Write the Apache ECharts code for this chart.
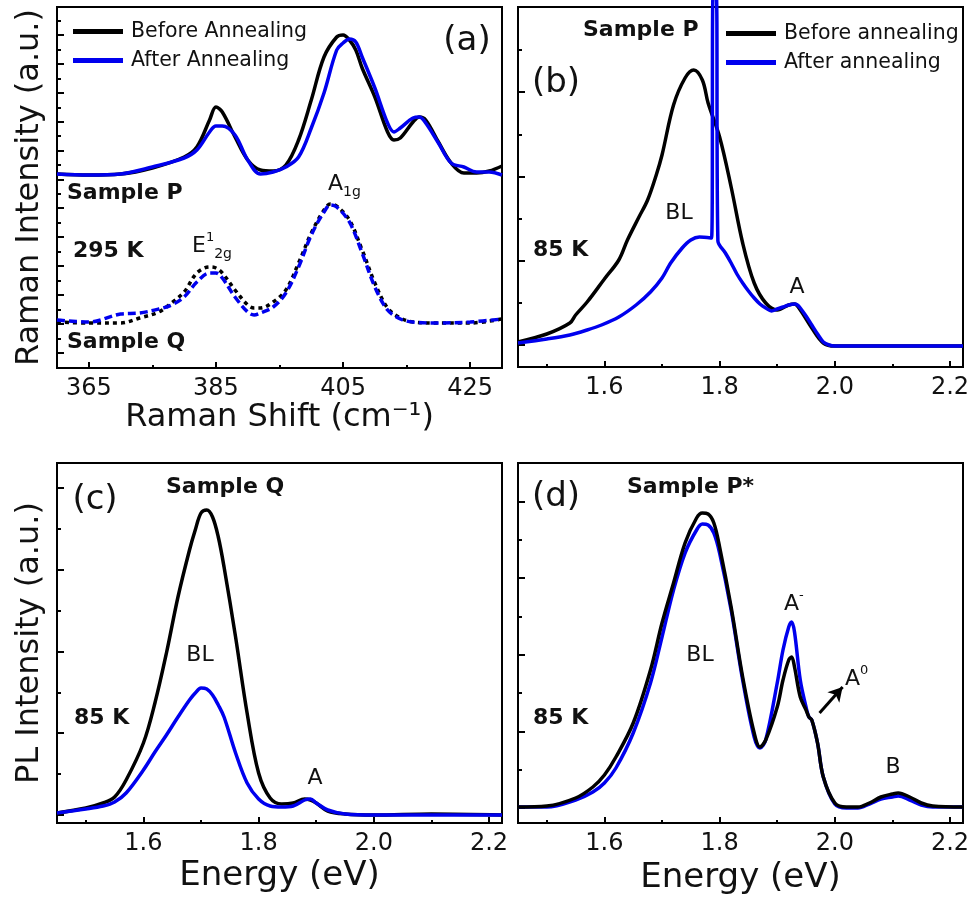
<!DOCTYPE html>
<html>
<head>
<meta charset="utf-8">
<script src="https://cdn.jsdelivr.net/npm/echarts@6/dist/echarts.min.js"></script>
<style>
html, body { margin: 0; padding: 0; background: #fff; }
#chart { width: 976px; height: 901px; }
</style>
</head>
<body>
<div id="chart"></div>
<script>
const FONT = '"DejaVu Sans", sans-serif'
const BLACK = '#000000'
const BLUE = '#0000ee'
const TXT = '#111111'

// (a) Raman spectra, 295 K — sample P (solid) and sample Q (dotted)
const ramanShift = [360, 365, 370, 375, 380, 382, 384, 385, 386, 388, 390, 392, 394, 396, 398, 400, 402, 404, 405, 406, 407, 408, 410, 412, 413, 414, 416, 417, 418, 420, 422, 424, 426, 428, 430]
const ramanPBefore = [194, 193, 194, 200, 211, 221, 248, 261, 256, 231, 208, 198, 197, 203, 228, 268, 311, 331, 333, 328, 318, 300, 271, 236, 228, 230, 246, 251, 248, 226, 205, 195, 195, 197, 202]
const ramanPAfter = [194, 193, 194, 201, 210, 218, 236, 242, 242, 233, 208, 194, 196, 201, 211, 240, 275, 318, 325, 329, 326, 311, 280, 245, 236, 240, 250, 251, 245, 225, 205, 201, 196, 196, 193]
const ramanQShift = [360, 365, 370, 373, 376, 378, 380, 382, 384, 385, 386, 388, 390, 391, 392, 394, 396, 398, 400, 402, 403, 404, 406, 408, 410, 412, 414, 416, 420, 425, 430]
const ramanQBefore = [46, 45, 45, 50, 56, 65, 76, 95, 101, 100, 95, 78, 63, 60, 60, 66, 78, 105, 135, 158, 164, 162, 148, 118, 85, 60, 50, 46, 45, 45, 49]
const ramanQAfter = [48, 46, 54, 55, 59, 63, 71, 86, 95, 95, 90, 71, 56, 53, 55, 61, 75, 101, 133, 156, 163, 161, 146, 115, 81, 58, 49, 46, 45, 46, 49]

// (b) PL, sample P, 85 K
const energyB = [1.45, 1.50, 1.54, 1.55, 1.57, 1.60, 1.625, 1.64, 1.66, 1.675, 1.69, 1.70, 1.72, 1.74, 1.755, 1.77, 1.78, 1.80, 1.82, 1.84, 1.86, 1.88, 1.90, 1.92, 1.93, 1.94, 1.96, 1.98, 2.00, 2.10, 2.2225]
const plPBefore = [25, 33, 44, 52, 65, 88, 107, 127, 150, 167, 192, 212, 262, 289, 297, 287, 264, 230, 180, 124, 84, 64, 57, 62, 63, 57, 39, 24, 21, 21, 21]
const energyBAfter = [1.45, 1.50, 1.54, 1.57, 1.595, 1.625, 1.655, 1.68, 1.70, 1.715, 1.735, 1.75, 1.765, 1.786, 1.7887, 1.7942, 1.797, 1.81, 1.82, 1.83, 1.84, 1.85, 1.86, 1.87, 1.88, 1.89, 1.90, 1.91, 1.92, 1.93, 1.935, 1.94, 1.95, 1.96, 1.97, 1.98, 1.99, 2.00, 2.10, 2.2225]
const plPAfter = [24, 28, 32, 37, 42, 50, 62, 75, 89, 104, 119, 127, 130, 129, 372, 372, 126, 114, 104, 93, 84, 76, 69, 63, 59, 56, 58, 60, 62, 63, 62, 59, 51, 42, 33, 25, 22, 21, 21, 21]

// (c) PL, sample Q, 85 K
const energyC = [1.45, 1.50, 1.53, 1.55, 1.57, 1.60, 1.62, 1.64, 1.66, 1.68, 1.69, 1.70, 1.71, 1.72, 1.73, 1.74, 1.76, 1.78, 1.80, 1.82, 1.84, 1.86, 1.88, 1.89, 1.90, 1.92, 1.95, 2.00, 2.10, 2.2225]
const plQBefore = [10, 15, 20, 26, 43, 80, 120, 170, 226, 273, 293, 310, 313, 306, 286, 256, 186, 110, 50, 25, 19, 20, 24, 23, 20, 12, 9, 8, 9, 8]
const plQAfter = [10, 14, 17, 21, 30, 53, 71, 88, 106, 123, 130, 135, 134, 128, 118, 106, 70, 40, 24, 17, 16, 17, 23, 24, 20, 13, 9, 8, 8, 8]

// (d) PL, sample P*, 85 K
const energyD = [1.45, 1.50, 1.55, 1.58, 1.60, 1.62, 1.65, 1.68, 1.70, 1.72, 1.74, 1.76, 1.77, 1.78, 1.79, 1.80, 1.82, 1.84, 1.86, 1.87, 1.88, 1.90, 1.91, 1.92, 1.925, 1.93, 1.94, 1.95, 1.955, 1.96, 1.97, 1.98, 2.00, 2.02, 2.04, 2.06, 2.08, 2.10, 2.11, 2.13, 2.15, 2.17, 2.2225]
const plPStarBefore = [16, 17, 25, 36, 48, 66, 100, 153, 200, 240, 280, 305, 310, 309, 300, 276, 216, 146, 90, 76, 83, 116, 143, 163, 166, 156, 126, 113, 106, 103, 80, 46, 20, 16, 16, 20, 26, 29, 30, 26, 20, 17, 16]
const plPStarAfter = [16, 16, 23, 31, 40, 55, 90, 140, 186, 233, 270, 293, 299, 298, 290, 270, 213, 143, 86, 75, 83, 140, 173, 196, 201, 191, 143, 116, 106, 103, 80, 46, 19, 15, 15, 19, 24, 26, 27, 23, 18, 16, 16]

// ticks
const ramanTicks = [365, 385, 405, 425]
const ramanMinorTicks = [375, 395, 415]
const energyTicks = [1.6, 1.8, 2.0, 2.2]
const energyMinorTicks = [1.5, 1.7, 1.9, 2.1]
const yTicksA = [15, 44, 73, 102, 131, 160, 188, 217, 246, 275, 304, 333]
const yMinorA = [29, 58, 87, 116, 145, 174, 203, 232, 260, 289, 318, 347]
const yTicksB = [22, 106, 190, 275]
const yMinorB = [64, 148, 232, 317]
const yTicksC = [8, 90, 171, 253, 335]
const yMinorC = [49, 130, 212, 294]
const yTicksD = [15, 91, 168, 245, 321]
const yMinorD = [53, 130, 206, 283]

const zip = (xs, ys) => xs.map((x, i) => [x, ys[i]])

const GRIDS = [
  { left: 57, top: 7, width: 445, height: 361 },
  { left: 518, top: 7, width: 445, height: 360 },
  { left: 57, top: 463, width: 445, height: 360 },
  { left: 518, top: 463, width: 445, height: 360 },
]

function xPair(gridIndex, min, max, ticks, minor, fmt, name, nameGap, nameSize) {
  return [
    {
      type: 'value', gridIndex, min, max, position: 'bottom',
      name, nameLocation: 'middle', nameGap,
      nameTextStyle: { fontFamily: FONT, fontSize: nameSize, color: TXT },
      axisLine: { show: true, onZero: false, lineStyle: { color: BLACK, width: 2 } },
      axisTick: { show: true, inside: true, length: 6, customValues: ticks, lineStyle: { color: BLACK, width: 2 } },
      axisLabel: { show: true, customValues: ticks, margin: 9, fontFamily: FONT, fontSize: 24, color: TXT, formatter: fmt },
      splitLine: { show: false },
    },
    {
      type: 'value', gridIndex, min, max, position: 'bottom',
      axisLine: { show: false, onZero: false },
      axisTick: { show: true, inside: true, length: 3, customValues: minor, lineStyle: { color: BLACK, width: 2 } },
      axisLabel: { show: false },
      splitLine: { show: false },
    },
  ]
}

function yPair(gridIndex, max, ticks, minor, name) {
  return [
    {
      type: 'value', gridIndex, min: 0, max, position: 'left',
      name, nameLocation: 'middle', nameGap: 11,
      nameTextStyle: { fontFamily: FONT, fontSize: 32, color: TXT },
      axisLine: { show: true, onZero: false, lineStyle: { color: BLACK, width: 2 } },
      axisTick: { show: true, inside: true, length: 7, customValues: ticks, lineStyle: { color: BLACK, width: 2 } },
      axisLabel: { show: false },
      splitLine: { show: false },
    },
    {
      type: 'value', gridIndex, min: 0, max, position: 'left',
      axisLine: { show: false, onZero: false },
      axisTick: { show: true, inside: true, length: 4, customValues: minor, lineStyle: { color: BLACK, width: 2 } },
      axisLabel: { show: false },
      splitLine: { show: false },
    },
  ]
}

function line(name, data, g, color, extra) {
  return Object.assign({
    name, type: 'line', xAxisIndex: 2 * g, yAxisIndex: 2 * g, data,
    symbol: 'none', showSymbol: false, smooth: 0.35,
    lineStyle: { color, width: 3.5, join: 'round' }, itemStyle: { color }, silent: true,
  }, extra || {})
}

function txt(text, x, y, opts) {
  return {
    type: 'text', x, y, silent: true,
    style: Object.assign({ text, fill: TXT, font: `22px ${FONT}`, align: 'center', verticalAlign: 'middle' }, opts || {}),
  }
}
const bold = (text, x, y) => txt(text, x, y, { font: `bold 22px ${FONT}`, align: 'left' })
const RICH = {
  n: { fontFamily: FONT, fontSize: 22, color: TXT, lineHeight: 30 },
  sup: { fontFamily: FONT, fontSize: 13, color: TXT, verticalAlign: 'top', lineHeight: 14 },
  sub: { fontFamily: FONT, fontSize: 14, color: TXT, verticalAlign: 'bottom', lineHeight: 14 },
}
const rich = (text, x, y, align) => txt(text, x, y, { rich: RICH, align: align || 'left' })

const ramanFmt = v => String(v)
const energyFmt = v => v.toFixed(1)

const legendBase = {
  orient: 'vertical', padding: 0, icon: 'rect', itemWidth: 50, itemHeight: 5, itemGap: 8,
  selectedMode: false,
  textStyle: { fontFamily: FONT, fontSize: 20.5, color: TXT, padding: [0, 0, 0, 3] },
}

const chart = echarts.init(document.getElementById('chart'), null, { renderer: 'canvas' })
chart.setOption({
  animation: false,
  backgroundColor: '#fff',
  grid: GRIDS.map(g => Object.assign({ show: true, borderColor: BLACK, borderWidth: 2, containLabel: false }, g)),
  xAxis: [
    ...xPair(0, 360, 430, ramanTicks, ramanMinorTicks, ramanFmt, 'Raman Shift (cm⁻¹)', 34, 32),
    ...xPair(1, 1.45, 2.2225, energyTicks, energyMinorTicks, energyFmt, '', 0, 32),
    ...xPair(2, 1.45, 2.2225, energyTicks, energyMinorTicks, energyFmt, 'Energy (eV)', 36, 34),
    ...xPair(3, 1.45, 2.2225, energyTicks, energyMinorTicks, energyFmt, 'Energy (eV)', 38, 34),
  ],
  yAxis: [
    ...yPair(0, 361, yTicksA, yMinorA, 'Raman Intensity (a.u.)'),
    ...yPair(1, 360, yTicksB, yMinorB, ''),
    ...yPair(2, 360, yTicksC, yMinorC, 'PL Intensity (a.u.)'),
    ...yPair(3, 360, yTicksD, yMinorD, ''),
  ],
  legend: [
    Object.assign({}, legendBase, { data: ['Before Annealing', 'After Annealing'], left: 73, top: 21 }),
    Object.assign({}, legendBase, { data: ['Before annealing', 'After annealing'], left: 726, top: 23 }),
  ],
  series: [
    line('Before Annealing', zip(ramanShift, ramanPBefore), 0, BLACK),
    line('After Annealing', zip(ramanShift, ramanPAfter), 0, BLUE),
    line('Before Annealing Q', zip(ramanQShift, ramanQBefore), 0, BLACK, { lineStyle: { color: BLACK, width: 3.5, type: [4, 4], cap: 'butt' } }),
    line('After Annealing Q', zip(ramanQShift, ramanQAfter), 0, BLUE, { lineStyle: { color: BLUE, width: 3.5, type: [8, 4], cap: 'butt' } }),

    line('Before annealing', zip(energyB, plPBefore), 1, BLACK),
    line('After annealing', zip(energyBAfter, plPAfter), 1, BLUE, { smooth: 0.3, clip: false }),

    line('Before annealing Q', zip(energyC, plQBefore), 2, BLACK),
    line('After annealing Q', zip(energyC, plQAfter), 2, BLUE),

    line('After annealing P*', zip(energyD, plPStarAfter), 3, BLUE),
    line('Before annealing P*', zip(energyD, plPStarBefore), 3, BLACK, {
      markLine: {
        silent: true, symbol: ['none', 'arrow'], symbolSize: [12, 14],
        label: { show: false },
        lineStyle: { color: BLACK, width: 3, type: 'solid' },
        data: [[{ coord: [1.9735, 110] }, { coord: [2.0135, 136] }]],
      },
    }),
  ],
  graphic: [
    // (a)
    txt('(a)', 467, 41, { font: `34px ${FONT}` }),
    bold('Sample P', 67, 193),
    bold('295 K', 73, 251),
    bold('Sample Q', 67, 342),
    rich('{n|E}{sup|1}{sub|2g}', 192, 246),
    rich('{n|A}{sub|1g}', 328, 184),
    // (b)
    txt('(b)', 556, 83, { font: `34px ${FONT}` }),
    bold('Sample P', 583, 30),
    txt('BL', 679, 213),
    bold('85 K', 533, 250),
    txt('A', 797, 287),
    // (c)
    txt('(c)', 95, 500, { font: `34px ${FONT}` }),
    bold('Sample Q', 166, 487),
    txt('BL', 200, 655),
    bold('85 K', 74, 718),
    txt('A', 315, 778),
    // (d)
    txt('(d)', 556, 497, { font: `34px ${FONT}` }),
    bold('Sample P*', 627, 487),
    txt('BL', 700, 655),
    rich('{n|A}{sup|-}', 784, 604),
    rich('{n|A}{sup|0}', 845, 679),
    bold('85 K', 533, 718),
    txt('B', 893, 767),
  ],
})
</script>
</body>
</html>
